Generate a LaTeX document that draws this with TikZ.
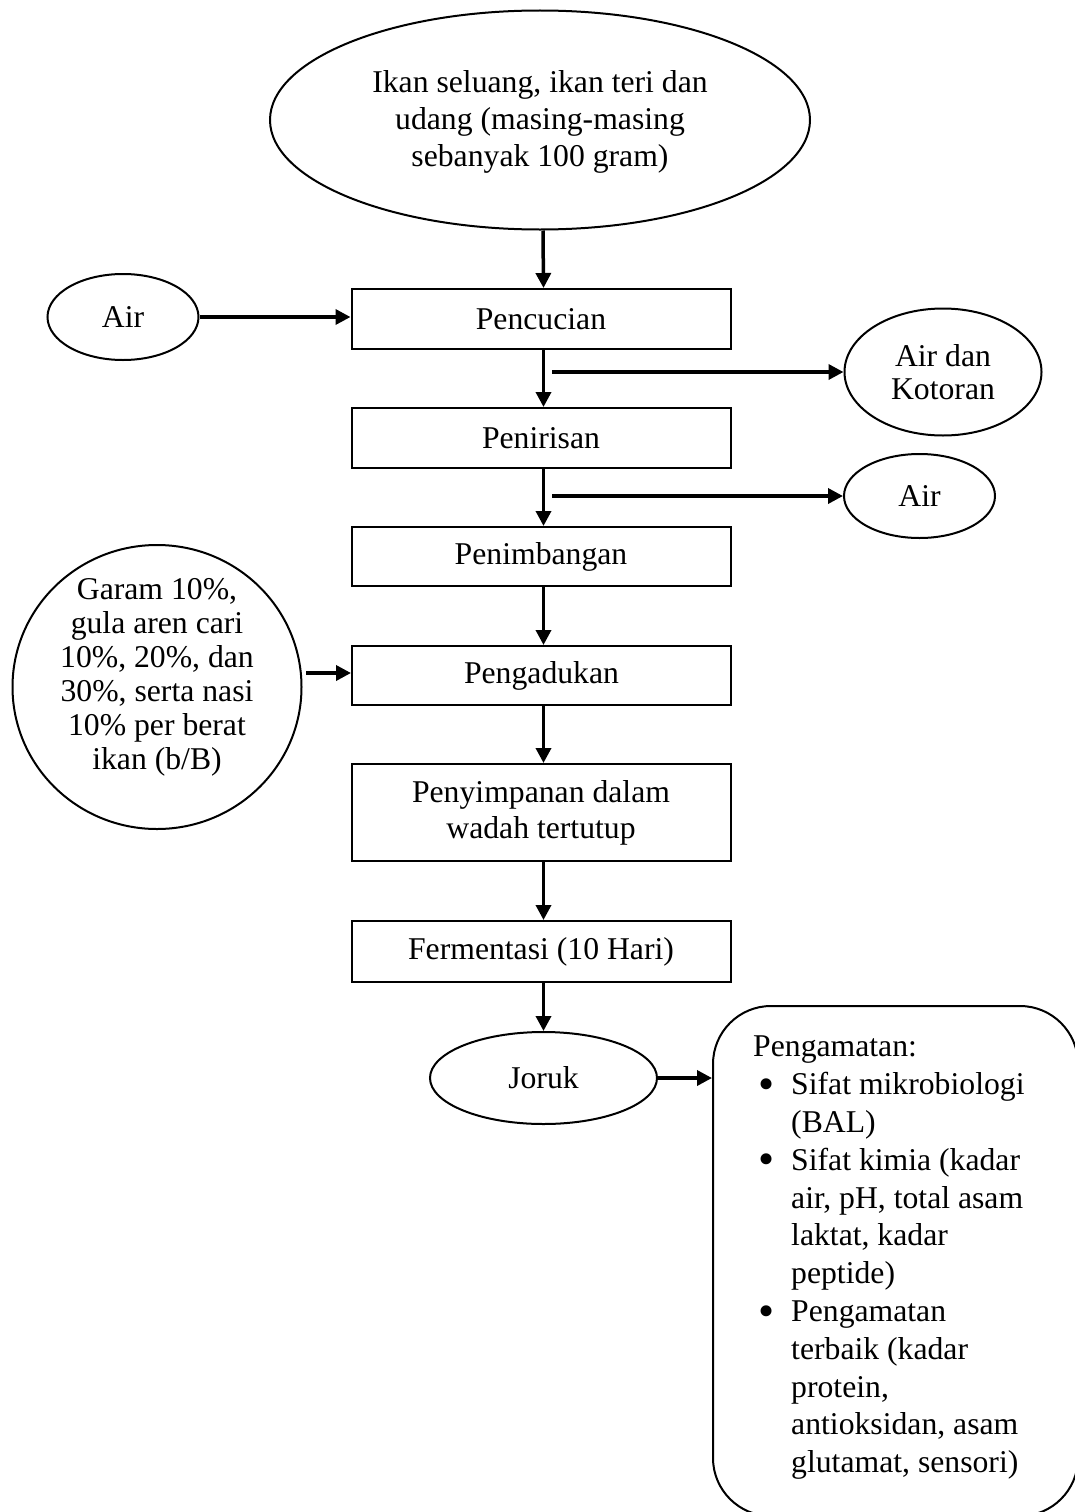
\documentclass[tikz,border=0pt]{standalone}
\usepackage{fontspec}
\usepackage{graphicx}
\setmainfont{Liberation Serif}
\usetikzlibrary{shapes.geometric,arrows.meta}
\newcommand{\bigbul}{\raisebox{-4.5pt}[0pt][0pt]{\scalebox{1.45}{\textbullet}}}
\begin{document}
\begin{tikzpicture}[x=1pt,y=-1pt,
  proc/.style={draw, line width=2pt, rectangle, minimum width=379pt, inner sep=0pt, align=center,
     font=\fontsize{31.7}{36}\selectfont},
  oval/.style={draw, line width=2pt, ellipse, inner sep=0pt, align=center,
     font=\fontsize{31.7}{34}\selectfont},
  txt/.style={inner sep=0pt, align=center, font=\fontsize{31.7}{34}\selectfont},
  arr/.style={line width=3.5pt, -{Triangle[length=15pt,width=15pt]}}]
\useasboundingbox (0,0) rectangle (1074,1512);
\fill[white] (0,0) rectangle (1074,1512);

% nodes
\node[oval, minimum width=540pt, minimum height=219pt] (top) at (540,120) {};
\node[txt, font=\fontsize{31.7}{37}\selectfont] (toptxt) at (540,122)
  {Ikan seluang, ikan teri dan\\udang (masing-masing\\sebanyak 100 gram)};
\node[proc, minimum height=60pt] (pencucian) at (541,319) {Pencucian};
\node[oval, minimum width=151pt, minimum height=86pt] (airL) at (123,317) {Air};
\node[proc, minimum height=60pt] (penirisan) at (541,438) {Penirisan};
\node[oval, minimum width=197pt, minimum height=127pt, font=\fontsize{31.7}{33}\selectfont] (kotoran) at (943,372) {Air dan\\Kotoran};
\node[oval, minimum width=151pt, minimum height=84pt] (airR) at (919.5,496) {Air};
\node[proc, minimum height=59pt] (penimbangan) at (541,556.5) {Penimbangan};
\node[proc, minimum height=59pt] (pengadukan) at (541.5,675.5) {Pengadukan};
\node[oval, minimum width=289pt, minimum height=284pt] (garam) at (157,687) {};
\node[txt] (garamtxt) at (157,677) {Garam 10\%,\\gula aren cari\\10\%, 20\%, dan\\30\%, serta nasi\\10\% per berat\\ikan (b/B)};
\node[proc, minimum height=97pt] (penyimpanan) at (541,812.5) {Penyimpanan dalam\\wadah tertutup};
\node[proc, minimum height=61pt] (fermentasi) at (541,951.5) {Fermentasi (10 Hari)};
\node[oval, minimum width=227pt, minimum height=92pt] (joruk) at (543.5,1078) {Joruk};
\node[draw, line width=2pt, rectangle, rounded corners=58pt, minimum width=365pt, minimum height=510pt, inner sep=0pt] (obs) at (895.5,1261) {};
\node[anchor=north west, inner sep=0pt, align=left, font=\fontsize{31.7}{37.8}\selectfont] (obstxt) at (753,1036)
  {Pengamatan:\\
   \hspace*{5pt}\makebox[33pt][l]{\bigbul}Sifat mikrobiologi\\
   \hspace*{38pt}(BAL)\\
   \hspace*{5pt}\makebox[33pt][l]{\bigbul}Sifat kimia (kadar\\
   \hspace*{38pt}air, pH, total asam\\
   \hspace*{38pt}laktat, kadar\\
   \hspace*{38pt}peptide)\\
   \hspace*{5pt}\makebox[33pt][l]{\bigbul}Pengamatan\\
   \hspace*{38pt}terbaik (kadar\\
   \hspace*{38pt}protein,\\
   \hspace*{38pt}antioksidan, asam\\
   \hspace*{38pt}glutamat, sensori)};

% branch start points
\coordinate (b1) at (552,372);
\coordinate (b2) at (552,496);
\coordinate (g1) at (306,673);

% connectors
\draw[arr] ([xshift=3pt]top.south) -- ([xshift=2.5pt]pencucian.north);
\draw[arr] (airL.east) -- (airL.east -| pencucian.west);
\draw[arr] ([xshift=2.5pt]pencucian.south) -- ([xshift=2.5pt]penirisan.north);
\draw[arr] (b1) -- (kotoran.west);
\draw[arr] ([xshift=2.5pt]penirisan.south) -- ([xshift=2.5pt]penimbangan.north);
\draw[arr] (b2) -- (airR.west);
\draw[arr] ([xshift=2.5pt]penimbangan.south) -- ([xshift=2pt]pengadukan.north);
\draw[arr] (g1) -- (g1 -| pengadukan.west);
\draw[arr] ([xshift=2pt]pengadukan.south) -- ([xshift=2.5pt]penyimpanan.north);
\draw[arr] ([xshift=2.5pt]penyimpanan.south) -- ([xshift=2.5pt]fermentasi.north);
\draw[arr] ([xshift=2.5pt]fermentasi.south) -- (joruk.north);
\draw[arr] (joruk.east) -- (joruk.east -| obs.west);
\end{tikzpicture}
\end{document}
